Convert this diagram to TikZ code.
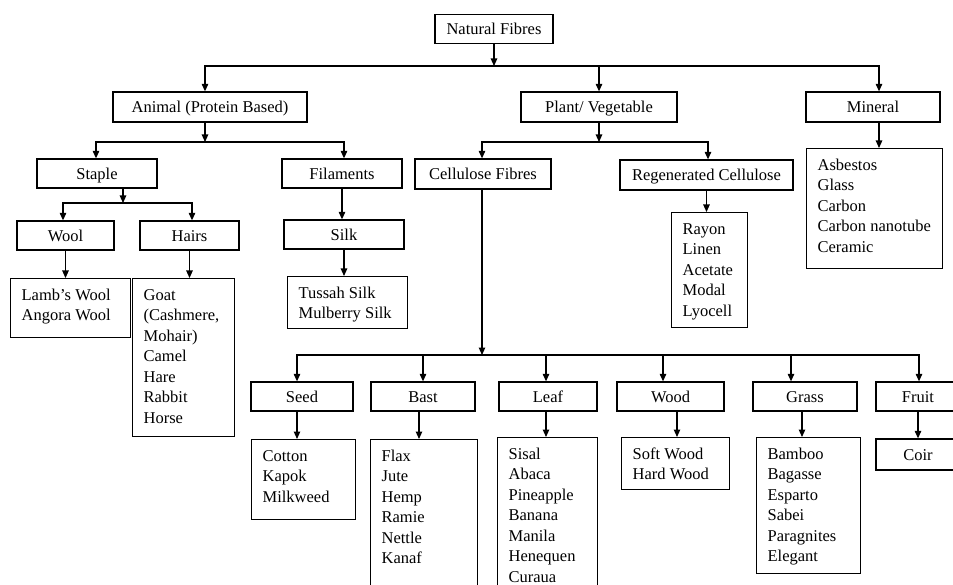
\documentclass[tikz,border=0pt]{standalone}
\usepackage{fontspec}
\setmainfont{Liberation Serif}
\usepackage{tikz}
\usetikzlibrary{arrows.meta, positioning}
\tikzstyle{cat} = [rectangle, draw=black, line width=1.3pt, minimum height=29pt, inner sep=0pt, text height=13pt, text depth=1pt, text centered]
\tikzstyle{list} = [rectangle, draw=black, line width=1.3pt, anchor=north west, inner xsep=11pt, inner ysep=0pt]
\tikzstyle{arrow} = [line width=1.1pt,->,>={Triangle[length=7.5pt,width=6.5pt]}]
\tikzstyle{bus} = [line width=1.1pt, line cap=rect]
\newcommand{\fibrelist}[3]{\parbox[c][#2pt][t]{\dimexpr#1pt-22pt\relax}{\raggedright\rule{0pt}{21.5pt}#3}}

\begin{document}
\begin{tikzpicture}[x=1pt, y=-1pt, font=\fontsize{16.5}{20.5}\selectfont]
\useasboundingbox (0,0) rectangle (953,585);
\clip (0,0) rectangle (953,585);

% top level
\node (nat) [cat, minimum width=118pt] at (494,29) {Natural Fibres};
\node (ani) [cat, minimum width=194pt, minimum height=30pt] at (210,107) {Animal (Protein Based)};
\node (pla) [cat, minimum width=156pt, minimum height=30pt] at (599,107) {Plant/ Vegetable};
\node (mnr) [cat, minimum width=134pt, minimum height=30pt] at (873,107) {Mineral};

\coordinate (b0) at (494,66);
\coordinate (b0l) at (205,66);
\coordinate (b0r) at (879,66);
\draw [arrow] (nat) -- (b0);
\draw [bus] (b0l) -- (b0r);
\draw [arrow] (b0l) -- (b0l |- ani.north);
\draw [arrow] (b0 -| pla) -- (pla);
\draw [arrow] (b0r) -- (b0r |- mnr.north);

% animal
\node (sta) [cat, minimum width=120pt] at (97,173.5) {Staple};
\node (fil) [cat, minimum width=120pt] at (342,173.5) {Filaments};
\coordinate (b1) at (205,142);
\coordinate (b1l) at (96,142);
\coordinate (b1r) at (344,142);
\draw [arrow] (b1 |- ani.south) -- (b1);
\draw [bus] (b1l) -- (b1r);
\draw [arrow] (b1l) -- (b1l |- sta.north);
\draw [arrow] (b1r) -- (b1r |- fil.north);

\node (woo) [cat, minimum width=97pt] at (65.5,235.5) {Wool};
\node (hai) [cat, minimum width=99pt] at (189.5,235.5) {Hairs};
\coordinate (b2) at (123,203);
\coordinate (b2l) at (63,203);
\coordinate (b2r) at (192,203);
\draw [arrow] (b2 |- sta.south) -- (b2);
\draw [bus] (b2l) -- (b2r);
\draw [arrow] (b2l) -- (b2l |- woo.north);
\draw [arrow] (b2r) -- (b2r |- hai.north);

\node (lam) [list] at (10,278) {\fibrelist{120}{59}{Lamb's~Wool\\Angora~Wool}};
\node (goa) [list] at (132,278) {\fibrelist{102}{158}{Goat\\(Cashmere,\\Mohair)\\Camel\\Hare\\Rabbit\\Horse}};
\draw [arrow] (woo) -- (woo |- lam.north);
\draw [arrow] (hai) -- (hai |- goa.north);

\node (sil) [cat, minimum width=120pt] at (344,234.5) {Silk};
\node (tus) [list] at (287,276) {\fibrelist{120}{52}{Tussah~Silk\\Mulberry~Silk}};
\draw [arrow] (fil) -- (fil |- sil.north);
\draw [arrow] (sil) -- (sil |- tus.north);

% plant
\node (cel) [cat, minimum width=136pt, minimum height=30pt] at (483,174) {Cellulose Fibres};
\node (reg) [cat, minimum width=173pt, minimum height=30pt] at (706.5,175) {Regenerated Cellulose};
\coordinate (b3) at (599,142);
\coordinate (b3l) at (482,142);
\coordinate (b3r) at (708,142);
\draw [arrow] (pla) -- (b3);
\draw [bus] (b3l) -- (b3r);
\draw [arrow] (b3l) -- (b3l |- cel.north);
\draw [arrow] (b3r) -- (b3r |- reg.north);

\node (ray) [list] at (671,212) {\fibrelist{76}{115}{Rayon\\Linen\\Acetate\\Modal\\Lyocell}};
\draw [arrow] (reg) -- (reg |- ray.north);

% mineral
\node (asb) [list] at (806,148) {\fibrelist{136}{120}{Asbestos\\Glass\\Carbon\\Carbon~nanotube\\Ceramic}};
\draw [arrow] (b0r |- mnr.south) -- (b0r |- asb.north);

% cellulose fibres
\node (see) [cat, minimum width=102pt] at (302,396.5) {Seed};
\node (bas) [cat, minimum width=104pt] at (423,396.5) {Bast};
\node (lea) [cat, minimum width=98pt] at (548,396.5) {Leaf};
\node (wod) [cat, minimum width=107pt] at (670.5,396.5) {Wood};
\node (gra) [cat, minimum width=104pt] at (805,396.5) {Grass};
\node (fru) [cat, minimum width=84pt] at (918,396.5) {Fruit};
\coordinate (b4) at (482,355);
\coordinate (b4l) at (297,355);
\coordinate (b4r) at (919,355);
\draw [arrow] (b4 |- cel.south) -- (b4);
\draw [bus] (b4l) -- (b4r);
\foreach \n/\x in {see/297, bas/423, lea/546, wod/663, gra/791, fru/919} {
  \coordinate (d\n) at (\x,355);
  \draw [arrow] (d\n) -- (d\n |- \n.north);
}

\node (cot) [list] at (251,439) {\fibrelist{104}{80}{Cotton\\Kapok\\Milkweed}};
\node (fla) [list] at (370,439) {\fibrelist{107}{170}{Flax\\Jute\\Hemp\\Ramie\\Nettle\\Kanaf}};
\node (sis) [list] at (497,437) {\fibrelist{100}{170}{Sisal\\Abaca\\Pineapple\\Banana\\Manila\\Henequen\\Curaua}};
\node (sof) [list] at (621,437) {\fibrelist{108}{52}{Soft~Wood\\Hard~Wood}};
\node (bam) [list] at (756,437) {\fibrelist{104}{136}{Bamboo\\Bagasse\\Esparto\\Sabei\\Paragnites\\Elegant}};
\node (coi) [cat, minimum width=84pt, minimum height=31pt] at (918,454.5) {Coir};
\foreach \a/\b/\s in {see/cot/-5pt, bas/fla/-4pt, lea/sis/-2pt, wod/sof/6.5pt, gra/bam/-3pt, fru/coi/0pt}
  \draw [arrow] ([xshift=\s]\a.south) -- ([xshift=\s]\a.south |- \b.north);
\end{tikzpicture}
\end{document}
